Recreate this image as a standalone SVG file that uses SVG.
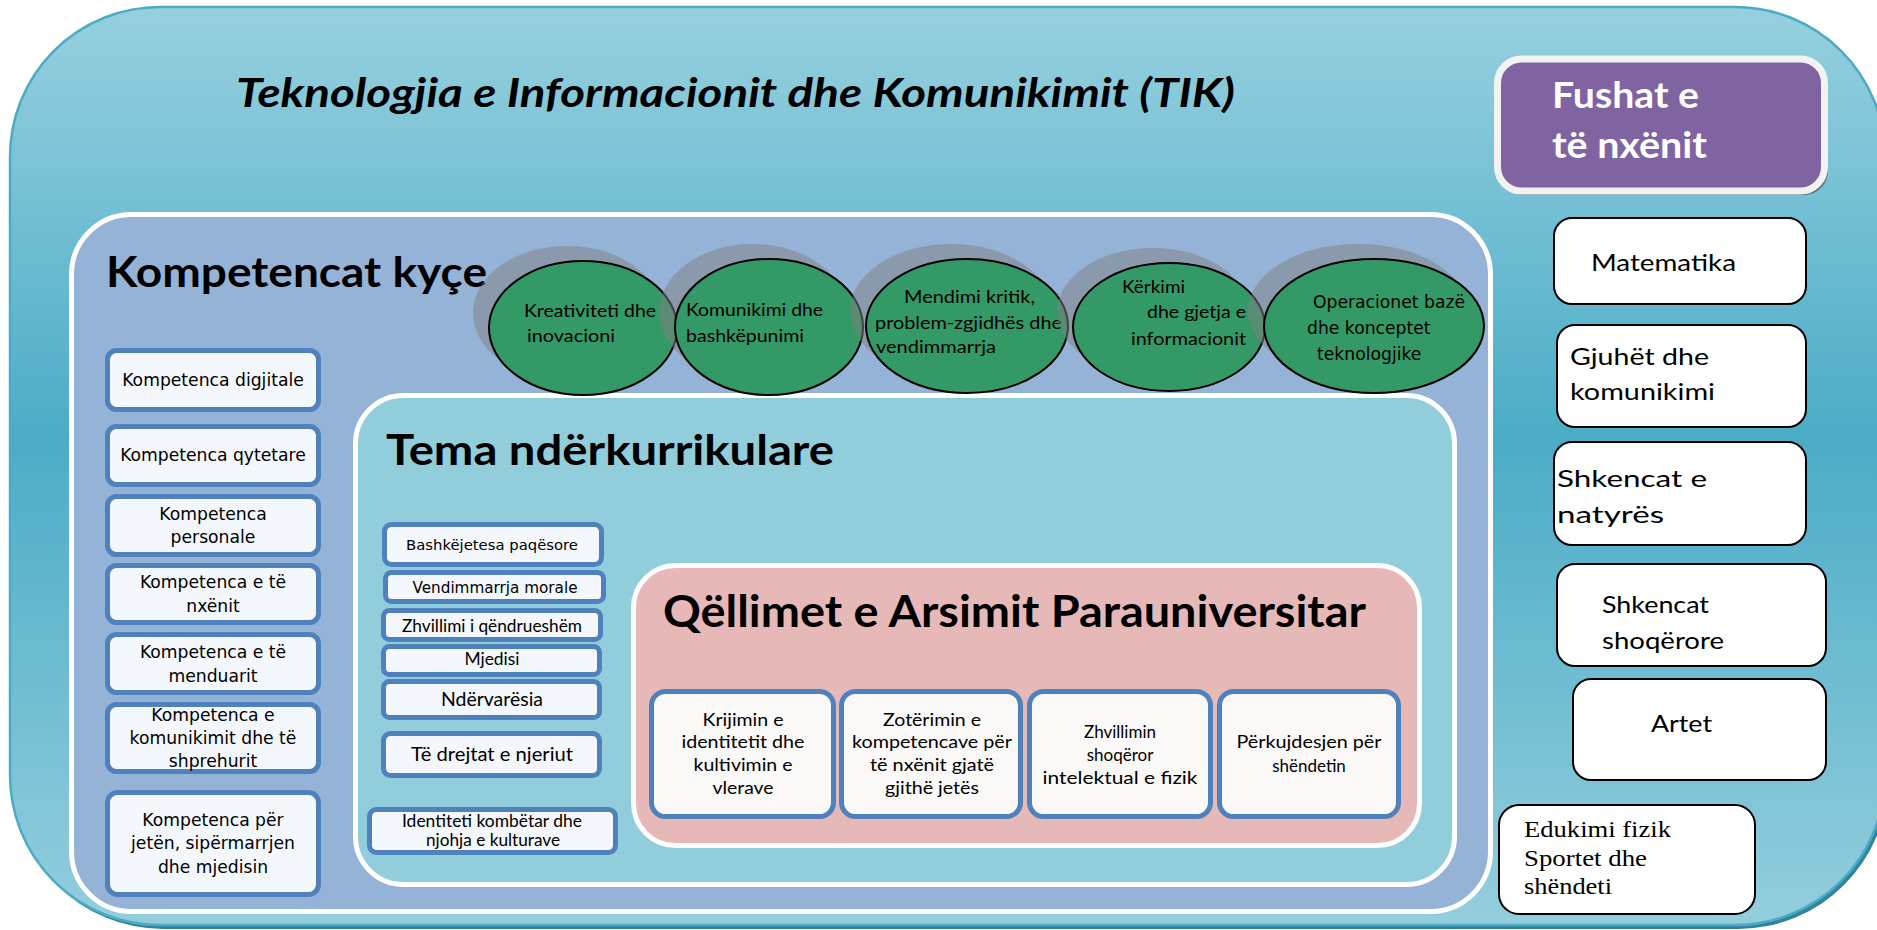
<svg xmlns="http://www.w3.org/2000/svg" width="1877" height="930" viewBox="0 0 1877 930">
<defs>
<linearGradient id="bg" x1="0" y1="0" x2="0" y2="1">
<stop offset="0" stop-color="#97D0DF"/>
<stop offset="0.47" stop-color="#4BACC6"/>
<stop offset="1" stop-color="#94CEDD"/>
</linearGradient>
<style>
.ttl{font-family:Lato,"Open Sans","Liberation Sans",sans-serif;font-weight:bold;fill:#000}
.cal{font-family:Lato,"Open Sans","Liberation Sans",sans-serif;fill:#000}
.tah{font-family:"DejaVu Sans","Liberation Sans",sans-serif;fill:#000}
.ser{font-family:"Liberation Serif","Times New Roman",serif;fill:#000}
.mid{text-anchor:middle}
.kbox{fill:#F4F7FC;stroke:#4F81BD;stroke-width:5}
.gbox{fill:#FBF8F8;stroke:#4F81BD;stroke-width:5}
.fbox{fill:#FFFFFF;stroke:#000;stroke-width:2}
.ell{fill:#339966;stroke:#000;stroke-width:2}
.shd{fill:#808080;opacity:0.5}
</style>
</defs>
<rect width="1877" height="930" fill="#FFFFFF"/>

<g id="tik">
<rect x="13" y="11" width="1875" height="918" rx="150" fill="#31849B"/>
<rect x="10" y="7" width="1875" height="918" rx="150" fill="url(#bg)" stroke="#4BACC6" stroke-width="2.5"/>
<text class="ttl" font-style="italic" x="236" y="107" font-size="40" textLength="999" lengthAdjust="spacingAndGlyphs">Teknologjia e Informacionit dhe Komunikimit (TIK)</text>
</g>

<g id="fushat">
<rect x="1501" y="63" width="327" height="132" rx="24" fill="#5A7386"/>
<rect x="1497.5" y="59" width="327" height="132" rx="24" fill="#8064A2" stroke="#F2F2F2" stroke-width="7"/>
<text class="ttl" x="1552" y="108" font-size="36" fill="#FFFFFF" style="fill:#FFFFFF" textLength="147" lengthAdjust="spacingAndGlyphs">Fushat e</text>
<text class="ttl" x="1552" y="158" font-size="36" style="fill:#FFFFFF" textLength="155" lengthAdjust="spacingAndGlyphs">të nxënit</text>
</g>

<g id="kompetencat">
<rect x="71.5" y="214.5" width="1419" height="697" rx="60" fill="#95B3D7" stroke="#FFFFFF" stroke-width="5"/>
<text class="ttl" x="106" y="287" font-size="42" textLength="381" lengthAdjust="spacingAndGlyphs">Kompetencat kyçe</text>
</g>

<g id="tema">
<rect x="355.5" y="395.5" width="1099" height="489" rx="48" fill="#92CDDC" stroke="#FFFFFF" stroke-width="5"/>
<text class="ttl" x="386" y="465" font-size="42" textLength="448" lengthAdjust="spacingAndGlyphs">Tema ndërkurrikulare</text>
</g>

<g id="qellimet">
<rect x="633.5" y="565.5" width="786" height="280" rx="42" fill="#E6B9B8" stroke="#FFFFFF" stroke-width="5"/>
<text class="ttl" x="663" y="627" font-size="43" textLength="703" lengthAdjust="spacingAndGlyphs">Qëllimet e Arsimit Parauniversitar</text>
</g>

<g id="kreativiteti">
<ellipse class="shd" cx="567" cy="313" rx="94" ry="67"/>
<ellipse class="ell" cx="583" cy="328" rx="94" ry="67"/>
<text class="cal" font-size="18" x="524" y="317" textLength="132" lengthAdjust="spacingAndGlyphs">Kreativiteti dhe</text>
<text class="cal" font-size="18" x="527" y="342" textLength="88" lengthAdjust="spacingAndGlyphs">inovacioni</text>
</g>
<g id="komunikimi">
<ellipse class="shd" cx="753" cy="312" rx="94" ry="68"/>
<ellipse class="ell" cx="769" cy="327" rx="94" ry="68"/>
<text class="cal" font-size="18" x="686" y="316" textLength="137" lengthAdjust="spacingAndGlyphs">Komunikimi dhe</text>
<text class="cal" font-size="18" x="686" y="342" textLength="118" lengthAdjust="spacingAndGlyphs">bashkëpunimi</text>
</g>
<g id="mendimi">
<ellipse class="shd" cx="951" cy="311" rx="101" ry="67"/>
<ellipse class="ell" cx="967" cy="326" rx="101" ry="67"/>
<text class="cal" font-size="18" x="904" y="303" textLength="131" lengthAdjust="spacingAndGlyphs">Mendimi kritik,</text>
<text class="cal" font-size="18" x="875" y="329" textLength="187" lengthAdjust="spacingAndGlyphs">problem-zgjidhës dhe</text>
<text class="cal" font-size="18" x="876" y="353" textLength="120" lengthAdjust="spacingAndGlyphs">vendimmarrja</text>
</g>
<g id="kerkimi">
<ellipse class="shd" cx="1153" cy="312" rx="96" ry="64"/>
<ellipse class="ell" cx="1169" cy="327" rx="96" ry="64"/>
<text class="cal" font-size="18" x="1122" y="293" textLength="63" lengthAdjust="spacingAndGlyphs">Kërkimi</text>
<text class="cal" font-size="18" x="1147" y="318" textLength="99" lengthAdjust="spacingAndGlyphs">dhe gjetja e</text>
<text class="cal" font-size="18" x="1131" y="345" textLength="115" lengthAdjust="spacingAndGlyphs">informacionit</text>
</g>
<g id="operacionet">
<ellipse class="shd" cx="1358" cy="311" rx="110" ry="67"/>
<ellipse class="ell" cx="1374" cy="326" rx="110" ry="67"/>
<text class="tah" font-size="17.2" x="1313" y="308">Operacionet bazë</text>
<text class="tah" font-size="17.2" x="1307" y="334">dhe konceptet</text>
<text class="tah" font-size="17.2" x="1317" y="360">teknologjike</text>
</g>

<g id="k-digjitale">
<rect class="kbox" x="107.5" y="350.5" width="211" height="59" rx="9"/>
<text class="tah mid" font-size="17.2" x="213" y="386">Kompetenca digjitale</text>
</g>
<g id="k-qytetare">
<rect class="kbox" x="107.5" y="426.5" width="211" height="58" rx="9"/>
<text class="tah mid" font-size="17.2" x="213" y="461">Kompetenca qytetare</text>
</g>
<g id="k-personale">
<rect class="kbox" x="107.5" y="496.5" width="211" height="58" rx="9"/>
<text class="tah mid" font-size="17.2" x="213" y="520">Kompetenca</text>
<text class="tah mid" font-size="17.2" x="213" y="543">personale</text>
</g>
<g id="k-nxenit">
<rect class="kbox" x="107.5" y="565.5" width="211" height="57" rx="9"/>
<text class="tah mid" font-size="17.2" x="213" y="588">Kompetenca e të</text>
<text class="tah mid" font-size="17.2" x="213" y="612">nxënit</text>
</g>
<g id="k-menduarit">
<rect class="kbox" x="107.5" y="634.5" width="211" height="58" rx="9"/>
<text class="tah mid" font-size="17.2" x="213" y="658">Kompetenca e të</text>
<text class="tah mid" font-size="17.2" x="213" y="682">menduarit</text>
</g>
<g id="k-komunikimit">
<rect class="kbox" x="107.5" y="704.5" width="211" height="67" rx="9"/>
<text class="tah mid" font-size="17.2" x="213" y="721">Kompetenca e</text>
<text class="tah mid" font-size="17.2" x="213" y="744">komunikimit dhe të</text>
<text class="tah mid" font-size="17.2" x="213" y="767">shprehurit</text>
</g>
<g id="k-jeten">
<rect class="kbox" x="107.5" y="792.5" width="211" height="102" rx="10"/>
<text class="tah mid" font-size="17.2" x="213" y="826">Kompetenca për</text>
<text class="tah mid" font-size="17.2" x="213" y="849">jetën, sipërmarrjen</text>
<text class="tah mid" font-size="17.2" x="213" y="873">dhe mjedisin</text>
</g>

<g id="t-bashkejetesa">
<rect class="kbox" x="384.5" y="524.5" width="217" height="40" rx="7"/>
<text class="tah mid" font-size="14.8" x="492" y="550" textLength="172" lengthAdjust="spacingAndGlyphs">Bashkëjetesa paqësore</text>
</g>
<g id="t-vendimmarrja">
<rect class="kbox" x="385.5" y="572.5" width="218" height="29" rx="6"/>
<text class="tah mid" font-size="15" x="495" y="593" textLength="165" lengthAdjust="spacingAndGlyphs">Vendimmarrja morale</text>
</g>
<g id="t-zhvillimi">
<rect class="kbox" x="383.5" y="610.5" width="217" height="29" rx="6"/>
<text class="cal mid" font-size="16.5" x="492" y="632" textLength="180" lengthAdjust="spacingAndGlyphs">Zhvillimi i qëndrueshëm</text>
</g>
<g id="t-mjedisi">
<rect class="kbox" x="383.5" y="646.5" width="216" height="28" rx="6"/>
<text class="cal mid" font-size="16.5" x="492" y="665" textLength="55" lengthAdjust="spacingAndGlyphs">Mjedisi</text>
</g>
<g id="t-ndervaresia">
<rect class="kbox" x="383.5" y="681.5" width="216" height="36" rx="6"/>
<text class="cal mid" font-size="20" x="492" y="706" textLength="102" lengthAdjust="spacingAndGlyphs">Ndërvarësia</text>
</g>
<g id="t-drejtat">
<rect class="kbox" x="383.5" y="733.5" width="216" height="42" rx="7"/>
<text class="cal mid" font-size="19.5" x="492" y="761" textLength="162" lengthAdjust="spacingAndGlyphs">Të drejtat e njeriut</text>
</g>
<g id="t-identiteti">
<rect class="kbox" x="369.5" y="809.5" width="246" height="43" rx="7"/>
<text class="cal mid" font-size="16.5" x="492" y="827" textLength="180" lengthAdjust="spacingAndGlyphs">Identiteti kombëtar dhe</text>
<text class="cal mid" font-size="16.5" x="493" y="846" textLength="134" lengthAdjust="spacingAndGlyphs">njohja e kulturave</text>
</g>

<g id="q-krijimin">
<rect class="gbox" x="651.5" y="691.5" width="182" height="125" rx="14"/>
<text class="cal mid" font-size="17" x="743" y="726" textLength="81" lengthAdjust="spacingAndGlyphs">Krijimin e</text>
<text class="cal mid" font-size="17" x="743" y="748" textLength="123" lengthAdjust="spacingAndGlyphs">identitetit dhe</text>
<text class="cal mid" font-size="17" x="743" y="771" textLength="99" lengthAdjust="spacingAndGlyphs">kultivimin e</text>
<text class="cal mid" font-size="17" x="743" y="794" textLength="61" lengthAdjust="spacingAndGlyphs">vlerave</text>
</g>
<g id="q-zoterimin">
<rect class="gbox" x="841.5" y="691.5" width="179" height="125" rx="14"/>
<text class="cal mid" font-size="17" x="932" y="726" textLength="98" lengthAdjust="spacingAndGlyphs">Zotërimin e</text>
<text class="cal mid" font-size="17" x="932" y="748" textLength="160" lengthAdjust="spacingAndGlyphs">kompetencave për</text>
<text class="cal mid" font-size="17" x="932" y="771" textLength="124" lengthAdjust="spacingAndGlyphs">të nxënit gjatë</text>
<text class="cal mid" font-size="17" x="932" y="794" textLength="94" lengthAdjust="spacingAndGlyphs">gjithë jetës</text>
</g>
<g id="q-zhvillimin">
<rect class="gbox" x="1029.5" y="691.5" width="181" height="125" rx="14"/>
<text class="cal mid" font-size="17" x="1120" y="738">Zhvillimin</text>
<text class="cal mid" font-size="17" x="1120" y="761">shoqëror</text>
<text class="cal mid" font-size="17" x="1120" y="784" textLength="155" lengthAdjust="spacingAndGlyphs">intelektual e fizik</text>
</g>
<g id="q-perkujdesjen">
<rect class="gbox" x="1219.5" y="691.5" width="179" height="125" rx="14"/>
<text class="cal mid" font-size="17" x="1309" y="748" textLength="145" lengthAdjust="spacingAndGlyphs">Përkujdesjen për</text>
<text class="cal mid" font-size="17" x="1309" y="772">shëndetin</text>
</g>

<g id="f-matematika">
<rect class="fbox" x="1554" y="218" width="252" height="86" rx="18"/>
<text class="cal" font-size="24" x="1591" y="271" textLength="145" lengthAdjust="spacingAndGlyphs">Matematika</text>
</g>
<g id="f-gjuhet">
<rect class="fbox" x="1557" y="325" width="249" height="102" rx="18"/>
<text class="cal" font-size="24" x="1570" y="365" textLength="139" lengthAdjust="spacingAndGlyphs">Gjuhët dhe</text>
<text class="cal" font-size="24" x="1570" y="400" textLength="145" lengthAdjust="spacingAndGlyphs">komunikimi</text>
</g>
<g id="f-natyres">
<rect class="fbox" x="1554" y="442" width="252" height="103" rx="18"/>
<text class="cal" font-size="24" x="1557" y="487" textLength="150" lengthAdjust="spacingAndGlyphs">Shkencat e</text>
<text class="cal" font-size="24" x="1557" y="523" textLength="107" lengthAdjust="spacingAndGlyphs">natyrës</text>
</g>
<g id="f-shoqerore">
<rect class="fbox" x="1557" y="564" width="269" height="102" rx="18"/>
<text class="cal" font-size="24" x="1602" y="613" textLength="107" lengthAdjust="spacingAndGlyphs">Shkencat</text>
<text class="cal" font-size="24" x="1602" y="649" textLength="122" lengthAdjust="spacingAndGlyphs">shoqërore</text>
</g>
<g id="f-artet">
<rect class="fbox" x="1573" y="679" width="253" height="101" rx="18"/>
<text class="cal" font-size="24" x="1651" y="732" textLength="61" lengthAdjust="spacingAndGlyphs">Artet</text>
</g>
<g id="f-edukimi">
<rect class="fbox" x="1499" y="805" width="256" height="109" rx="20"/>
<text class="ser" font-size="24" x="1524" y="837" textLength="147" lengthAdjust="spacingAndGlyphs">Edukimi fizik</text>
<text class="ser" font-size="24" x="1524" y="866" textLength="123" lengthAdjust="spacingAndGlyphs">Sportet dhe</text>
<text class="ser" font-size="24" x="1524" y="894" textLength="88" lengthAdjust="spacingAndGlyphs">shëndeti</text>
</g>

<g id="connectors"></g>
</svg>
